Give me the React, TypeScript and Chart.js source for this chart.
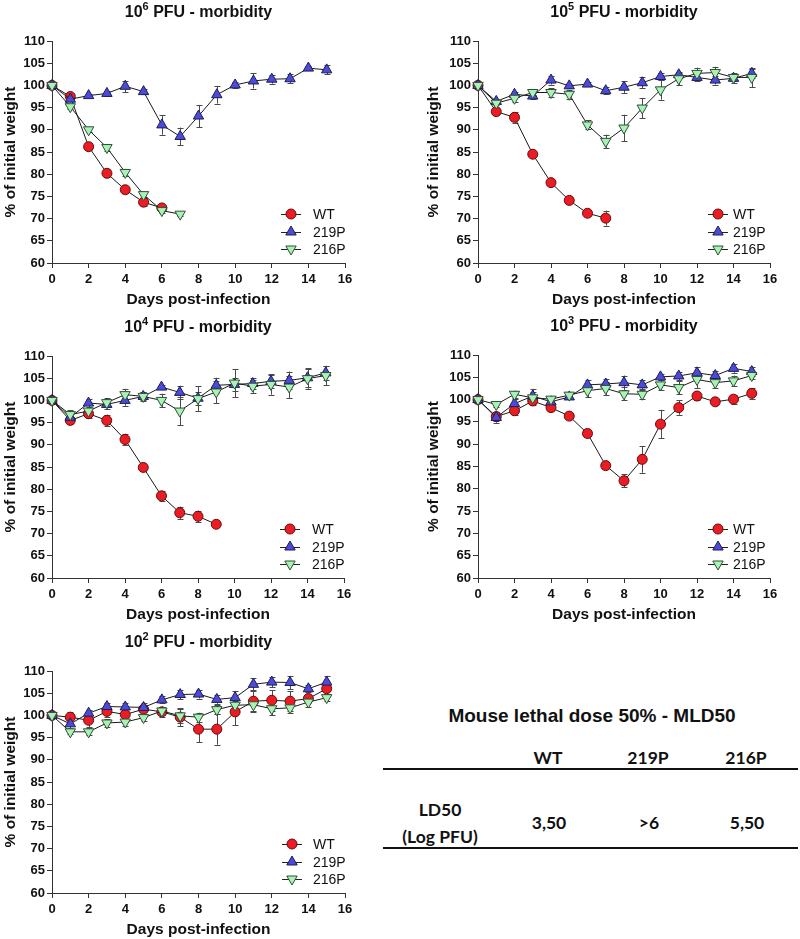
import React, { useEffect, useRef } from 'react';
import { Chart, registerables } from 'chart.js';

Chart.register(...registerables);

// ---------------- DATA ----------------
const DAYS = [0, 1, 2, 3, 4, 5, 6, 7, 8, 9, 10, 11, 12, 13, 14, 15];
const X_TICK_STEP = 2;
const Y_TICK_STEP = 5;
const SERIES_NAMES = ['WT', '219P', '216P'];
const DOSE_EXPONENTS = ['6', '5', '4', '3', '2'];

// 10^6 PFU
const WT_E6 = [100, 97.5, 86.2, 80.2, 76.5, 73.7, 72.4];
const WT_E6_SEM = [0, 0.5, 0.8, 0.9, 0.7, 0.9, 0.5];
const P219_E6 = [100, 96.9, 97.7, 98.2, 99.8, 98.6, 91.1, 88.5, 93.1, 97.9, 100.1, 101.0, 101.4, 101.5, 103.9, 103.5];
const P219_E6_SEM = [0, 0.4, 0.4, 0.5, 1.3, 0.5, 2.2, 2.0, 2.5, 2.0, 0.6, 1.7, 1.0, 1.0, 0.5, 1.0];
const P216_E6 = [100, 95.2, 90.0, 86.0, 80.4, 75.4, 71.8, 71.0];
const P216_E6_SEM = [0, 0.5, 0.5, 0.7, 0.8, 0.6, 0.5, 0.4];

// 10^5 PFU
const WT_E5 = [100, 94.1, 92.8, 84.5, 78.1, 74.1, 71.2, 70.1];
const WT_E5_SEM = [0, 0.6, 1.2, 0.6, 0.5, 0.5, 0.6, 1.7];
const P219_E5 = [100, 96.4, 98.0, 97.6, 101.2, 99.9, 100.3, 98.8, 99.6, 100.6, 102.0, 102.4, 101.8, 101.2, 101.6, 102.7];
const P219_E5_SEM = [0, 0.6, 0.5, 0.6, 1.0, 0.5, 0.5, 0.8, 1.3, 1.2, 0.8, 0.5, 0.8, 1.0, 1.0, 1.0];
const P216_E5 = [100, 96.0, 97.1, 98.4, 98.4, 98.0, 91.1, 87.4, 90.4, 94.9, 99.0, 101.5, 102.7, 102.9, 101.8, 101.8];
const P216_E5_SEM = [0, 0.5, 0.8, 0.6, 1.0, 1.0, 1.0, 1.5, 3.0, 2.3, 2.2, 1.5, 1.3, 1.3, 0.9, 2.2];

// 10^4 PFU
const WT_E4 = [100, 95.5, 97.0, 95.5, 91.2, 84.9, 78.5, 74.7, 73.9, 72.1];
const WT_E4_SEM = [0, 0.9, 0.9, 1.3, 1.3, 0.9, 1.2, 1.4, 1.3, 0.6];
const P219_E4 = [100, 96.2, 99.4, 99.1, 100.0, 100.9, 103.0, 101.8, 100.5, 103.4, 103.6, 103.8, 104.3, 104.5, 105.1, 106.2];
const P219_E4_SEM = [0, 0.8, 1.0, 1.0, 1.2, 0.9, 0.5, 1.5, 1.5, 1.7, 1.5, 1.2, 1.5, 2.0, 2.0, 1.5];
const P216_E4 = [100, 96.8, 97.6, 99.5, 101.3, 100.9, 100.0, 97.6, 100.4, 101.9, 103.9, 103.2, 103.6, 103.0, 104.9, 105.6];
const P216_E4_SEM = [0, 1.0, 1.0, 1.0, 1.3, 1.0, 1.5, 3.2, 2.8, 2.5, 3.2, 1.5, 2.3, 2.5, 2.3, 2.2];

// 10^3 PFU
const WT_E3 = [100, 96.2, 97.5, 99.7, 98.2, 96.3, 92.4, 85.2, 81.8, 86.6, 94.5, 98.2, 100.8, 99.5, 100.1, 101.4];
const WT_E3_SEM = [0, 1.0, 1.0, 0.8, 0.8, 0.6, 0.6, 0.6, 1.5, 3.0, 3.2, 1.6, 0.8, 0.7, 1.0, 1.2];
const P219_E3 = [100, 96.0, 99.1, 100.8, 99.5, 100.6, 103.3, 103.5, 103.8, 103.3, 105.1, 105.3, 106.0, 105.4, 107.0, 106.3];
const P219_E3_SEM = [0, 1.2, 1.0, 1.6, 0.8, 0.5, 1.0, 1.2, 1.6, 1.0, 0.6, 1.0, 1.2, 1.0, 1.0, 1.0];
const P216_E3 = [100, 98.9, 101.2, 100.4, 100.1, 101.0, 102.0, 102.5, 101.3, 101.2, 103.3, 102.7, 104.5, 103.8, 104.2, 105.4];
const P216_E3_SEM = [0, 0.6, 0.8, 1.2, 0.5, 0.5, 1.5, 1.5, 1.5, 1.0, 1.2, 1.5, 2.0, 1.2, 1.2, 0.8];

// 10^2 PFU
const WT_E2 = [100, 99.6, 98.9, 100.9, 100.2, 101.4, 100.8, 99.6, 96.9, 96.9, 100.8, 103.2, 103.4, 103.2, 103.8, 106.0];
const WT_E2_SEM = [0, 1.2, 1.5, 1.2, 1.2, 1.0, 1.2, 2.0, 3.0, 3.5, 3.0, 2.5, 2.3, 2.2, 1.0, 1.2];
const P219_E2 = [100, 98.1, 100.5, 102.0, 101.9, 101.8, 103.5, 104.7, 104.8, 103.6, 104.0, 107.0, 107.5, 107.4, 106.0, 107.5];
const P219_E2_SEM = [0, 1.0, 0.8, 0.8, 1.0, 1.0, 0.8, 1.0, 1.0, 1.0, 1.5, 1.4, 1.2, 1.5, 0.8, 1.4];
const P216_E2 = [100, 96.3, 96.3, 98.3, 98.5, 99.5, 101.0, 99.9, 99.6, 101.3, 102.3, 102.4, 101.5, 101.7, 103.0, 104.0];
const P216_E2_SEM = [0, 0.6, 0.8, 0.8, 0.8, 0.8, 1.0, 1.5, 1.0, 1.0, 1.0, 1.5, 1.5, 1.2, 1.0, 0.8];

// Table (MLD50)
const TABLE_TITLE = 'Mouse lethal dose 50% - MLD50';
const TABLE_COLUMNS = ['WT', '219P', '216P'];
const TABLE_ROW_LABEL = ['LD50', '(Log PFU)'];
const TABLE_VALUES = ['3,50', '>6', '5,50'];

const PANEL_SERIES = [
  [[WT_E6, WT_E6_SEM], [P219_E6, P219_E6_SEM], [P216_E6, P216_E6_SEM]],
  [[WT_E5, WT_E5_SEM], [P219_E5, P219_E5_SEM], [P216_E5, P216_E5_SEM]],
  [[WT_E4, WT_E4_SEM], [P219_E4, P219_E4_SEM], [P216_E4, P216_E4_SEM]],
  [[WT_E3, WT_E3_SEM], [P219_E3, P219_E3_SEM], [P216_E3, P216_E3_SEM]],
  [[WT_E2, WT_E2_SEM], [P219_E2, P219_E2_SEM], [P216_E2, P216_E2_SEM]],
];

// ---------------- STYLE / LAYOUT ----------------
const FONT = '"Liberation Sans", Arial, Helvetica, sans-serif';
const TABLE_FONT = 'Lato, "Open Sans", sans-serif';
const X_AXIS_H = 46;

const SERIES_STYLE = [
  { fill: '#ec1c24', stroke: '#6a0a0a', style: 'circle', radius: 5, rotation: 0, order: 3 },
  { fill: '#4b4bd8', stroke: '#1c1c5a', style: 'triangle', radius: 6, rotation: 0, order: 2 },
  { fill: '#a8f2b6', stroke: '#2f4f36', style: 'triangle', radius: 6, rotation: 180, order: 1 },
];

const PANEL_LAYOUT = [
  { left: 0, top: 0, width: 400, padLeft: 1, plotLeft: 52, plotRight: 345, plotTop: 41, plotBottom: 263, legMarker: -54, legText: -32 },
  { left: 400, top: 0, width: 400, padLeft: 24, plotLeft: 478, plotRight: 770, plotTop: 41, plotBottom: 263, legMarker: -52, legText: -37 },
  { left: 0, top: 310, width: 400, padLeft: 1, plotLeft: 52, plotRight: 344, plotTop: 356, plotBottom: 578, legMarker: -54, legText: -32 },
  { left: 400, top: 310, width: 400, padLeft: 24, plotLeft: 478, plotRight: 770, plotTop: 355, plotBottom: 578, legMarker: -52, legText: -37 },
  { left: 0, top: 620, width: 400, padLeft: 1, plotLeft: 52, plotRight: 345, plotTop: 671, plotBottom: 893, legMarker: -53, legText: -32 },
];
const LEGEND_ROWS = [-49, -31, -14];

// ---------------- PLUGINS ----------------
function drawMarker(ctx: CanvasRenderingContext2D, style: any, x: number, y: number) {
  ctx.save();
  ctx.fillStyle = style.fill;
  ctx.strokeStyle = style.stroke;
  ctx.lineWidth = 1;
  ctx.beginPath();
  if (style.style === 'circle') {
    ctx.arc(x, y, style.radius, 0, Math.PI * 2);
  } else {
    const r = style.radius;
    const rot = (style.rotation * Math.PI) / 180;
    for (let k = 0; k < 3; k++) {
      const a = rot - Math.PI / 2 + (k * 2 * Math.PI) / 3;
      const px = x + Math.cos(a) * r;
      const py = y + Math.sin(a) * r;
      if (k === 0) ctx.moveTo(px, py);
      else ctx.lineTo(px, py);
    }
    ctx.closePath();
  }
  ctx.fill();
  ctx.stroke();
  ctx.restore();
}

const errorBarPlugin = {
  id: 'errorBars',
  beforeDatasetsDraw(chart: any) {
    const { ctx } = chart;
    const xs = chart.scales.x;
    const ys = chart.scales.y;
    ctx.save();
    ctx.strokeStyle = '#4a4a4a';
    ctx.lineWidth = 1;
    chart.data.datasets.forEach((ds: any) => {
      const errs: number[] = ds.sem || [];
      ds.data.forEach((p: any, i: number) => {
        const e = errs[i];
        if (!e) return;
        const x = Math.round(xs.getPixelForValue(p.x)) + 0.5;
        const y1 = ys.getPixelForValue(p.y + e);
        const y2 = ys.getPixelForValue(p.y - e);
        ctx.beginPath();
        ctx.moveTo(x, y1);
        ctx.lineTo(x, y2);
        ctx.moveTo(x - 3, Math.round(y1) + 0.5);
        ctx.lineTo(x + 3, Math.round(y1) + 0.5);
        ctx.moveTo(x - 3, Math.round(y2) + 0.5);
        ctx.lineTo(x + 3, Math.round(y2) + 0.5);
        ctx.stroke();
      });
    });
    ctx.restore();
  },
};

const panelTitlePlugin = {
  id: 'panelTitle',
  afterDraw(chart: any, _args: any, opts: any) {
    const { ctx, chartArea } = chart;
    const base = `bold 16px ${FONT}`;
    const sup = `bold 11px ${FONT}`;
    const parts: [string, string, number][] = [
      ['10', base, 0],
      [opts.exponent, sup, -6],
      [' PFU - morbidity', base, 0],
    ];
    ctx.save();
    let total = 0;
    const widths = parts.map(([t, f]) => {
      ctx.font = f;
      const w = ctx.measureText(t).width;
      total += w;
      return w;
    });
    let x = (chartArea.left + chartArea.right) / 2 - total / 2;
    const y = chartArea.top - 28;
    ctx.fillStyle = '#111';
    ctx.textBaseline = 'middle';
    ctx.textAlign = 'left';
    parts.forEach(([t, f, dy], i) => {
      ctx.font = f;
      ctx.fillText(t, x, y + dy);
      x += widths[i];
    });
    ctx.restore();
  },
};

const lineLegendPlugin = {
  id: 'lineLegend',
  afterDraw(chart: any, _args: any, opts: any) {
    const { ctx, chartArea } = chart;
    const mx = chartArea.right + opts.markerOffset;
    const tx = chartArea.right + opts.textOffset;
    chart.data.datasets.forEach((ds: any, i: number) => {
      const y = chartArea.bottom + LEGEND_ROWS[i];
      ctx.save();
      ctx.strokeStyle = '#222';
      ctx.lineWidth = 1;
      ctx.beginPath();
      ctx.moveTo(mx - 10, y + 0.5);
      ctx.lineTo(mx + 10, y + 0.5);
      ctx.stroke();
      ctx.restore();
      drawMarker(ctx, SERIES_STYLE[i], mx, y);
      ctx.save();
      ctx.font = `14px ${FONT}`;
      ctx.fillStyle = '#111';
      ctx.textBaseline = 'middle';
      ctx.textAlign = 'left';
      ctx.fillText(ds.label, tx, y + 1);
      ctx.restore();
    });
  },
};

// ---------------- COMPONENTS ----------------
function Panel({ index }: { index: number }) {
  const ref = useRef<HTMLCanvasElement>(null);
  const L = PANEL_LAYOUT[index];
  const height = L.plotBottom + X_AXIS_H - L.top;

  useEffect(() => {
    const series = PANEL_SERIES[index];
    const datasets = series.map(([vals, sem], si) => {
      const st = SERIES_STYLE[si];
      return {
        label: SERIES_NAMES[si],
        data: vals.map((v, k) => ({ x: DAYS[k], y: v })),
        sem,
        borderColor: '#1a1a1a',
        borderWidth: 1,
        pointStyle: st.style,
        pointRotation: st.rotation,
        pointRadius: st.radius,
        pointBackgroundColor: st.fill,
        pointBorderColor: st.stroke,
        pointBorderWidth: 1,
        tension: 0,
        clip: false as any,
        order: st.order,
      };
    });

    const tickFont = { family: FONT, size: 13, weight: 'bold' as const };
    const titleFont = { family: FONT, size: 15.5, weight: 'bold' as const, lineHeight: 1.2 };

    const chart = new Chart(ref.current as HTMLCanvasElement, {
      type: 'line',
      data: { datasets: datasets as any },
      options: {
        animation: false,
        responsive: false,
        maintainAspectRatio: false,
        events: [],
        layout: {
          padding: {
            left: L.padLeft,
            top: L.plotTop - L.top,
            right: L.left + L.width - L.plotRight,
            bottom: 0,
          },
        },
        scales: {
          x: {
            type: 'linear',
            min: 0,
            max: 16,
            afterFit: (s: any) => {
              s.height = X_AXIS_H;
            },
            ticks: { stepSize: X_TICK_STEP, font: tickFont, color: '#111', padding: 4, maxRotation: 0, autoSkip: false },
            grid: { drawOnChartArea: false, drawTicks: true, tickLength: 5, color: '#333', lineWidth: 1 },
            border: { display: true, color: '#333', width: 1 },
            title: { display: true, text: 'Days post-infection', font: titleFont, color: '#111', padding: { top: 0, bottom: 0 } },
          },
          y: {
            type: 'linear',
            min: 60,
            max: 110,
            afterFit: (s: any) => {
              s.width = L.plotLeft - L.left - L.padLeft;
            },
            ticks: { stepSize: Y_TICK_STEP, font: tickFont, color: '#111', padding: 2, autoSkip: false },
            grid: { drawOnChartArea: false, drawTicks: true, tickLength: 5, color: '#333', lineWidth: 1 },
            border: { display: true, color: '#333', width: 1 },
            title: { display: true, text: '% of initial weight', font: titleFont, color: '#111', padding: { top: 0, bottom: 0 } },
          },
        },
        plugins: {
          legend: { display: false },
          tooltip: { enabled: false },
          title: { display: false },
          panelTitle: { exponent: DOSE_EXPONENTS[index] },
          lineLegend: { markerOffset: L.legMarker, textOffset: L.legText },
        } as any,
      },
      plugins: [errorBarPlugin, panelTitlePlugin, lineLegendPlugin],
    });
    return () => chart.destroy();
  }, [index]);

  return (
    <canvas
      ref={ref}
      width={L.width}
      height={height}
      style={{ position: 'absolute', left: L.left, top: L.top, width: L.width, height }}
    />
  );
}

function Cell({ x, y, children, font, size }: any) {
  return (
    <div
      style={{
        position: 'absolute',
        left: x,
        top: y,
        transform: 'translate(-50%, -50%)',
        whiteSpace: 'nowrap',
        fontFamily: font,
        fontWeight: 700,
        fontSize: size,
        lineHeight: 1,
        color: '#111',
      }}
    >
      {children}
    </div>
  );
}

const TABLE_COL_X = [548, 648, 746];

function LD50Table() {
  return (
    <>
      <Cell x={592} y={715} font={FONT} size={19}>{TABLE_TITLE}</Cell>
      {TABLE_COLUMNS.map((c, i) => (
        <Cell key={c} x={TABLE_COL_X[i]} y={758} font={TABLE_FONT} size={17.5}>{c}</Cell>
      ))}
      <div style={{ position: 'absolute', left: 383, top: 768, width: 415, height: 2, background: '#111' }} />
      <Cell x={440} y={810} font={TABLE_FONT} size={17.5}>{TABLE_ROW_LABEL[0]}</Cell>
      <Cell x={440} y={837} font={TABLE_FONT} size={17.5}>{TABLE_ROW_LABEL[1]}</Cell>
      {TABLE_VALUES.map((v, i) => (
        <Cell key={i} x={TABLE_COL_X[i] + 1} y={823} font={TABLE_FONT} size={17.5}>{v}</Cell>
      ))}
      <div style={{ position: 'absolute', left: 383, top: 847, width: 415, height: 2, background: '#111' }} />
    </>
  );
}

export default function App() {
  return (
    <div
      style={{
        position: 'absolute',
        left: 0,
        top: 0,
        width: 800,
        height: 939,
        overflow: 'hidden',
        background: '#fff',
      }}
    >
      {PANEL_LAYOUT.map((_, i) => (
        <Panel key={i} index={i} />
      ))}
      <LD50Table />
    </div>
  );
}
